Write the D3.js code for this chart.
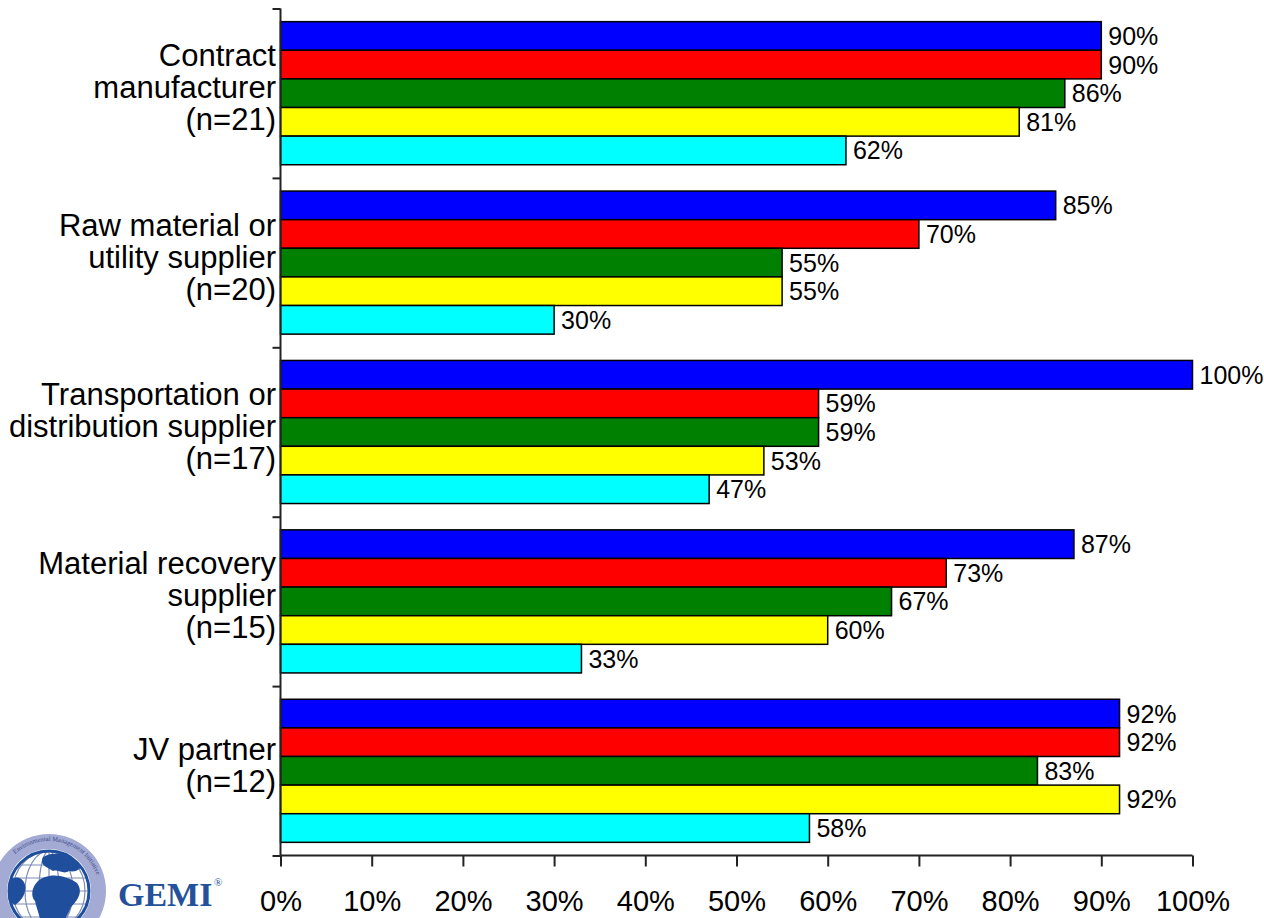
<!DOCTYPE html>
<html>
<head>
<meta charset="utf-8">
<script src="https://cdn.jsdelivr.net/npm/d3@7"></script>
<style>
  html, body { margin: 0; padding: 0; background: #fff; }
  svg { display: block; font-family: "Liberation Sans", Arial, sans-serif; }
</style>
</head>
<body>
<svg id="chart" width="1264" height="918"></svg>
<script>
// Supplier categories (each label split into lines)
const categories = [
  ["Contract", "manufacturer", "(n=21)"],
  ["Raw material or", "utility supplier", "(n=20)"],
  ["Transportation or", "distribution supplier", "(n=17)"],
  ["Material recovery", "supplier", "(n=15)"],
  ["JV partner", "(n=12)"]
];
const seriesKeys = ["s1", "s2", "s3", "s4", "s5"];
const seriesColors = ["#0000FF", "#FF0000", "#008000", "#FFFF00", "#00FFFF"];

// Percent values per series, one entry per category
const s1 = [90, 85, 100, 87, 92];
const s2 = [90, 70, 59, 73, 92];
const s3 = [86, 55, 59, 67, 83];
const s4 = [81, 55, 53, 60, 92];
const s5 = [62, 30, 47, 33, 58];
const seriesValues = [s1, s2, s3, s4, s5];

const xTicks = [0, 10, 20, 30, 40, 50, 60, 70, 80, 90, 100];

const svg = d3.select("#chart");
const plotLeft = 280.5, plotRight = 1192.5, plotTop = 8.5, plotBottom = 855.5;

const x = d3.scaleLinear().domain([0, 100]).range([plotLeft, plotRight]);
const catIdx = d3.range(categories.length);
const y0 = d3.scaleBand().domain(catIdx).range([plotTop, plotBottom]).padding(0);
const y1 = d3.scaleBand().domain(seriesKeys).range([0, y0.bandwidth()])
  .paddingInner(0).paddingOuter(0.46);

// Bars
const groups = svg.append("g").selectAll("g")
  .data(catIdx).join("g")
  .attr("transform", i => `translate(0,${y0(i)})`);

const barData = i => seriesKeys.map((k, j) => ({ key: k, color: seriesColors[j], value: seriesValues[j][i] }));

groups.selectAll("rect")
  .data(barData).join("rect")
  .attr("x", x(0))
  .attr("y", d => y1(d.key))
  .attr("width", d => x(d.value) - x(0))
  .attr("height", y1.bandwidth())
  .attr("fill", d => d.color)
  .attr("stroke", "#000")
  .attr("stroke-width", 1.5);

groups.selectAll("text.val")
  .data(barData).join("text")
  .attr("class", "val")
  .attr("x", d => x(d.value) + 7)
  .attr("y", d => y1(d.key) + y1.bandwidth() / 2 + 9)
  .attr("font-size", 25)
  .attr("fill", "#000")
  .text(d => d.value + "%");

// Category axis: tick marks at group boundaries
const yBound = d3.scaleLinear().domain([0, categories.length]).range([plotTop, plotBottom]);
svg.append("g")
  .attr("transform", `translate(${plotLeft},0)`)
  .call(d3.axisLeft(yBound).ticks(categories.length).tickSize(8).tickFormat(""))
  .call(g => g.select(".domain").attr("d", `M0,${plotTop}V${plotBottom}`))
  .call(g => g.selectAll("line, path").attr("stroke", "#222").attr("stroke-width", 2));

// Category labels
svg.append("g").selectAll("text")
  .data(catIdx).join("text")
  .attr("text-anchor", "end")
  .attr("font-size", 31)
  .attr("fill", "#000")
  .each(function (i) {
    const lines = categories[i];
    const cy = y0(i) + y0.bandwidth() / 2;
    d3.select(this).selectAll("tspan").data(lines).join("tspan")
      .attr("x", 276)
      .attr("y", (t, k) => cy + 5 + (k - (lines.length - 1) / 2) * 32)
      .text(t => t);
  });

// Value axis
svg.append("g")
  .attr("transform", `translate(0,${plotBottom})`)
  .call(d3.axisBottom(x).tickValues(xTicks).tickSize(11).tickPadding(0).tickFormat(d => d + "%"))
  .call(g => g.select(".domain").attr("d", `M${plotLeft},0H${plotRight}`))
  .call(g => g.selectAll("line, path").attr("stroke", "#222").attr("stroke-width", 2))
  .call(g => g.selectAll("text")
    .attr("font-size", 29)
    .attr("font-family", "Liberation Sans, Arial, sans-serif")
    .attr("fill", "#000")
    .attr("dy", null)
    .attr("y", 55.5));

// GEMI logo
const logo = svg.append("g").attr("transform", "translate(49,891)");
logo.append("path")
  .attr("d", d3.arc()({ innerRadius: 42, outerRadius: 57, startAngle: -2.4, endAngle: 2.4 }))
  .attr("fill", "#a3aad4");
logo.append("path").attr("id", "ringPath")
  .attr("fill", "none")
  .attr("d", "M-50,0 A50,50 0 0 1 50,0");
logo.append("text")
  .attr("font-size", 6.5)
  .attr("font-family", "Liberation Serif, serif")
  .attr("fill", "#3d4a8a")
  .attr("text-anchor", "middle")
  .append("textPath")
  .attr("href", "#ringPath")
  .attr("startOffset", "58%")
  .text("Environmental Management Initiative");

logo.append("clipPath").attr("id", "globeClip")
  .append("circle").attr("r", 40);
logo.append("circle").attr("r", 40).attr("fill", "#fff");
const gl = logo.append("g").attr("clip-path", "url(#globeClip)");
[-26, -13, 0, 13, 26].forEach(v => {
  gl.append("line").attr("x1", -45).attr("x2", 45).attr("y1", v).attr("y2", v)
    .attr("stroke", "#7f8cb8").attr("stroke-width", 1.2);
});
[10, 24, 36].forEach(rx => {
  gl.append("ellipse").attr("rx", rx).attr("ry", 40).attr("fill", "none")
    .attr("stroke", "#7f8cb8").attr("stroke-width", 1.2);
});
gl.append("line").attr("x1", 0).attr("x2", 0).attr("y1", -40).attr("y2", 40)
  .attr("stroke", "#7f8cb8").attr("stroke-width", 1.2);
// Land masses
gl.append("path")
  .attr("d", "M-6,-34 C4,-40 22,-38 30,-30 C36,-24 28,-18 20,-20 C14,-16 10,-22 4,-20 C-2,-24 -10,-26 -6,-34 Z")
  .attr("fill", "#1f4f9c");
gl.append("path")
  .attr("d", "M-4,-14 C6,-18 20,-14 28,-8 C34,0 30,8 22,16 C18,26 12,36 6,40 L-10,40 C-6,30 -12,20 -14,10 C-20,4 -16,-10 -4,-14 Z")
  .attr("fill", "#1f4f9c");
gl.append("path")
  .attr("d", "M-40,-10 C-34,-16 -26,-14 -24,-6 C-22,2 -28,10 -34,14 C-40,12 -44,0 -40,-10 Z")
  .attr("fill", "#1f4f9c");
logo.append("circle").attr("r", 40).attr("fill", "none")
  .attr("stroke", "#1f4f9c").attr("stroke-width", 3);

svg.append("text")
  .attr("x", 118).attr("y", 906)
  .attr("font-family", "Liberation Serif, Times New Roman, serif")
  .attr("font-weight", "bold")
  .attr("font-size", 34)
  .attr("fill", "#24519a")
  .text("GEMI");
svg.append("text")
  .attr("x", 214).attr("y", 886)
  .attr("font-family", "Liberation Serif, serif")
  .attr("font-size", 11)
  .attr("fill", "#24519a")
  .text("®");
</script>
</body>
</html>
